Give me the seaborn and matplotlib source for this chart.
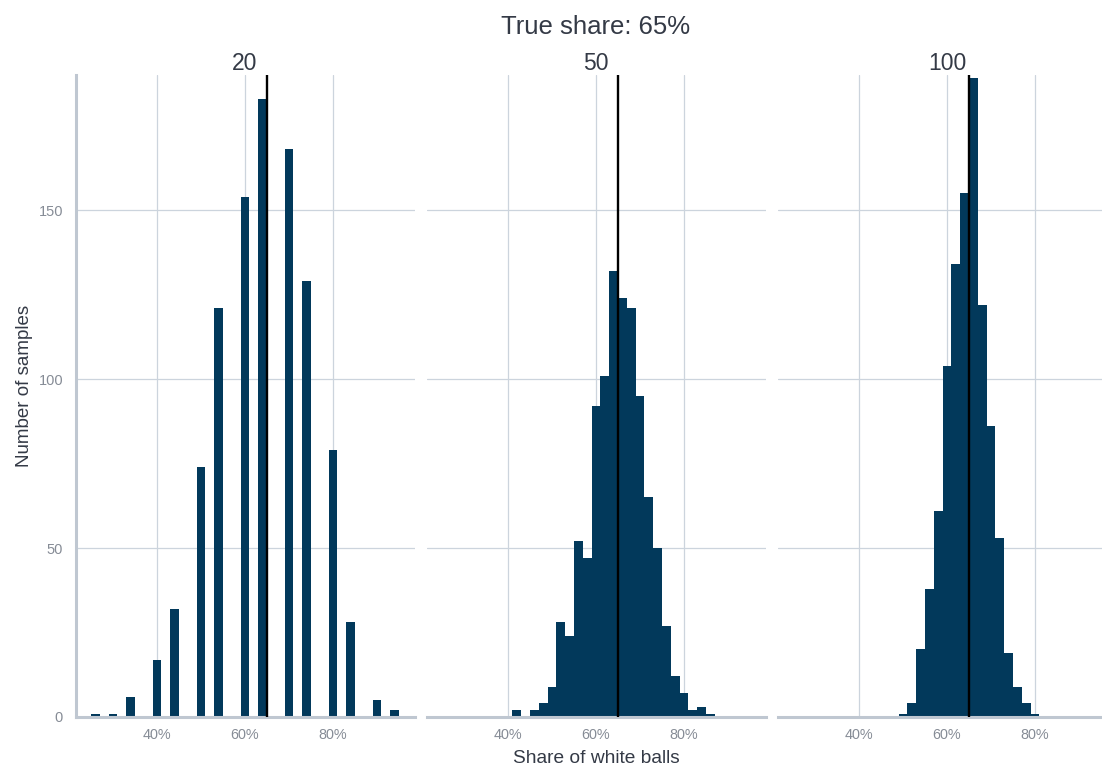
"""
Sampling distribution of the share of white balls
for three sample sizes (true share 65%).
"""

import numpy as np
import pandas as pd
import matplotlib
matplotlib.use("Agg")
import matplotlib.pyplot as plt
import seaborn as sns
from matplotlib.ticker import PercentFormatter

TRUE_SHARE = 0.65
SAMPLE_SIZES = [20, 50, 100]

# observed sample shares and how many of the 1000 samples gave them
SHARES_20 = [0.25, 0.30, 0.35, 0.40, 0.45, 0.50, 0.55, 0.60, 0.65, 0.70, 0.75, 0.80, 0.85, 0.90, 0.95]
COUNTS_20 = [1, 1, 6, 17, 32, 74, 121, 154, 183, 168, 129, 79, 28, 5, 2]

SHARES_50 = [0.42, 0.46, 0.48, 0.50, 0.52, 0.54, 0.56, 0.58, 0.60, 0.62, 0.64,
             0.66, 0.68, 0.70, 0.72, 0.74, 0.76, 0.78, 0.80, 0.82, 0.84, 0.86]
COUNTS_50 = [2, 2, 4, 9, 28, 24, 52, 47, 92, 101, 132, 124, 121, 95, 65, 50, 27, 12, 7, 2, 3, 1]

SHARES_100 = [0.50, 0.52, 0.54, 0.56, 0.58, 0.60, 0.62, 0.64, 0.66, 0.68, 0.70,
              0.72, 0.74, 0.76, 0.78, 0.80]
COUNTS_100 = [1, 4, 20, 38, 61, 104, 134, 155, 189, 122, 86, 53, 19, 9, 4, 1]

BAR_COLOR = "#02395b"
GRID_COLOR = "#ccd4dd"
AXIS_COLOR = "#bfc7d1"
TEXT_COLOR = "#343a46"
TICK_COLOR = "#868c96"

df = pd.concat([
    pd.DataFrame({"size": n, "share": s, "count": c})
    for n, s, c in [(20, SHARES_20, COUNTS_20),
                    (50, SHARES_50, COUNTS_50),
                    (100, SHARES_100, COUNTS_100)]
], ignore_index=True)

# 2%-wide bins from 25% to 95%, closed on the right (first bin closed on both sides)
eps = 1e-6
bin_edges = np.round(np.arange(0.25, 0.95 + 0.001, 0.02), 2) + eps
bin_edges[0] -= 2 * eps
bin_edges = [float(b) for b in bin_edges]

sns.set_theme(style="white")
plt.rcParams["font.family"] = ["Liberation Sans", "DejaVu Sans"]

W, H = 1102, 767
fig = plt.figure(figsize=(W / 100, H / 100), dpi=100)

panel_left = [75.5, 426.5, 777.5]
panel_w = 339
panel_top, panel_bottom = 75, 717

axes = []
for i, n in enumerate(SAMPLE_SIZES):
    ax = fig.add_axes([panel_left[i] / W, (H - panel_bottom) / H,
                       panel_w / W, (panel_bottom - panel_top) / H])
    axes.append(ax)
    sub = df[df["size"] == n]
    sns.histplot(data=sub, x="share", weights="count", bins=bin_edges, ax=ax,
                 color=BAR_COLOR, alpha=1, linewidth=0, zorder=2)
    ax.axvline(TRUE_SHARE, color="black", linewidth=1.7, zorder=3)

    ax.set_xlim(0.215, 0.985)
    ax.set_ylim(0, 190)
    ax.set_xticks([0.4, 0.6, 0.8])
    ax.xaxis.set_major_formatter(PercentFormatter(1, decimals=0))
    ax.set_yticks([0, 50, 100, 150])
    ax.grid(True, color=GRID_COLOR, linewidth=0.9, zorder=0)
    ax.set_axisbelow(True)
    ax.set_xlabel("")
    ax.set_ylabel("")
    ax.tick_params(axis="x", length=0, pad=8, labelsize=10.4, labelcolor=TICK_COLOR)
    ax.tick_params(axis="y", length=0, pad=9, labelsize=10.5, labelcolor=TICK_COLOR)
    if i > 0:
        ax.tick_params(axis="y", labelleft=False)

    for side in ["top", "right", "left"]:
        ax.spines[side].set_visible(False)
    ax.spines["bottom"].set_color(AXIS_COLOR)
    ax.spines["bottom"].set_linewidth(2.2)
    if i == 0:
        ax.spines["left"].set_visible(True)
        ax.spines["left"].set_color(AXIS_COLOR)
        ax.spines["left"].set_linewidth(2.2)

    ax.set_title(str(n), fontsize=16.5, color=TEXT_COLOR, pad=3.5)

cx = 596 / W
fig.text(cx, (H - 34) / H, "True share: 65%", ha="center", va="baseline",
         fontsize=18.5, color=TEXT_COLOR)
fig.text(cx, (H - 763) / H, "Share of white balls", ha="center", va="baseline",
         fontsize=13.8, color=TEXT_COLOR)
fig.text(25 / W, (H - 386) / H, "Number of samples", ha="center", va="center",
         rotation=90, fontsize=13.5, color=TEXT_COLOR)

fig.savefig("out.png", dpi=100)
